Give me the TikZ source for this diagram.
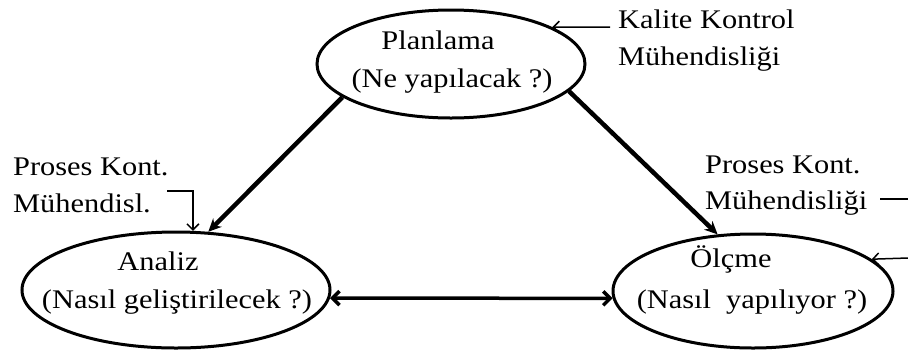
\documentclass[tikz,border=0pt]{standalone}
\usepackage{fontspec}
\setmainfont{Liberation Serif}[FakeStretch=1.13]
\usetikzlibrary{arrows.meta,shapes.geometric}

\tikzset{
  phase/.style={ellipse, draw, line width=3bp, inner sep=0pt},
  label/.style={inner sep=0pt, anchor=base, font=\fontsize{27}{37}\selectfont},
  note/.style={label, anchor=base west},
  flow/.style={line width=4.5bp, -{Stealth[length=13bp,width=12bp]}},
  link/.style={line width=3.5bp, {Straight Barb[length=7bp,width=14bp]}-{Straight Barb[length=7bp,width=14bp]}},
  hint/.style={line width=1.5bp, -{Straight Barb[length=6bp,width=12bp]}}
}

\begin{document}
\begin{tikzpicture}[x=1bp, y=-1bp]
  \useasboundingbox (0,0) rectangle (908,355);

  % the three phases
  \node[phase, minimum width=268bp, minimum height=108bp] (plan) at (451,64) {};
  \node[phase, minimum width=308bp, minimum height=116bp] (ana) at (176,290) {};
  \node[phase, minimum width=280bp, minimum height=114bp] (olc) at (753,291) {};

  \node[label] (plan-a) at (438,49) {Planlama};
  \node[label] (plan-b) at (452,87) {(Ne yapılacak ?)};
  \node[label] (ana-a) at (158,270) {Analiz};
  \node[label] (ana-b) at (177,308) {(Nasıl geliştirilecek ?)};
  \node[label] (olc-a) at (731,267) {Ölçme};
  \node[label] (olc-b) at (752,308) {(Nasıl~ yapılıyor ?)};

  % cycle between the phases
  \draw[flow] (plan.197) -- (ana.61.9);
  \draw[flow] (plan.-13.8) -- (olc.122.7);
  \draw[link] (ana.-3) -- (olc.183);

  % responsible disciplines
  \node[note] (kk-a) at (618,28) {Kalite Kontrol};
  \node[note] (kk-b) at (618,65) {Mühendisliği};
  \coordinate (kk-in) at (610,27);
  \draw[hint] (kk-in) -- (plan.20);

  \node[note] (pl-a) at (13,175) {Proses Kont.};
  \node[note] (pl-b) at (13,212) {Mühendisl.};
  \coordinate (pl-in) at (167,191);
  \draw[hint] (pl-in) -| (ana.74.5);

  \node[note] (pr-a) at (705,173) {Proses Kont.};
  \node[note] (pr-b) at (705,209) {Mühendisliği};
  \coordinate (pr-out) at (880,199);
  \coordinate (pr-edge) at (908,199);
  \draw[line width=1.5bp] (pr-out) -- (pr-edge);
  \coordinate (pr-in) at (908,258);
  \draw[hint] (pr-in) -- (olc.15.75);
\end{tikzpicture}
\end{document}
